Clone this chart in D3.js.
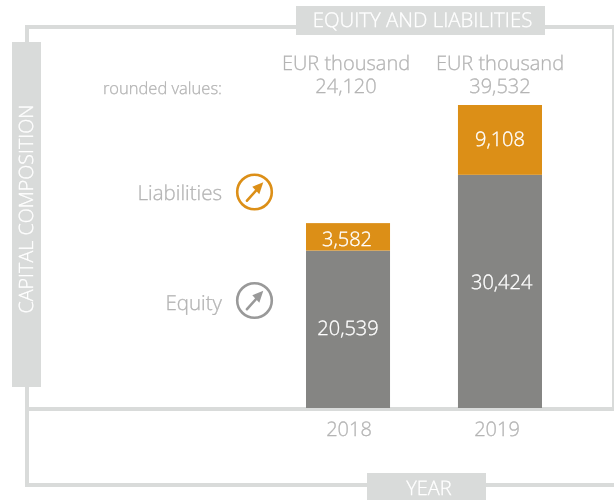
<!DOCTYPE html>
<html lang="en">
<head>
    <meta charset="UTF-8">
    <title>Equity and liabilities</title>
    <script src="https://d3js.org/d3.v7.min.js"></script>
    <style>
        body { margin: 0; background: white; overflow: hidden; }
        svg { display: block; will-change: transform; }
        text { font-family: "Open Sans", sans-serif; font-weight: 300; text-rendering: geometricPrecision; }
    </style>
</head>
<body>
    <svg id="chart" width="614" height="500"></svg>

    <script>
        const years = ["2018", "2019"];
        const equity = [20539, 30424];
        const liabilities = [3582, 9108];
        const totals = [24120, 39532];
        const seriesNames = ["Equity", "Liabilities"];

        const frameColor = "#d9dbda";
        const labelColor = "#b4b4b4";
        const colors = ["#858583", "#dc8f17"];
        const iconColors = ["#999999", "#dc8f17"];

        const svg = d3.select("#chart");
        const fmt = d3.format(",");

        const x = d3.scaleBand().domain(years).range([306, 542]).paddingInner(0.447).paddingOuter(0);
        const y = d3.scaleLinear().domain([0, d3.max(totals)]).range([408, 105]);

        // frame
        const frame = svg.append("g").attr("fill", frameColor);
        frame.append("rect").attr("x", 25).attr("y", 25).attr("width", 589).attr("height", 4);
        frame.append("rect").attr("x", 25).attr("y", 25).attr("width", 4).attr("height", 462);
        frame.append("rect").attr("x", 612).attr("y", 25).attr("width", 2).attr("height", 386);
        frame.append("rect").attr("x", 25).attr("y", 407).attr("width", 589).attr("height", 4);
        frame.append("rect").attr("x", 25).attr("y", 483).attr("width", 589).attr("height", 4);

        // axis title boxes
        frame.append("rect").attr("x", 296).attr("y", 6).attr("width", 249).attr("height", 29);
        frame.append("rect").attr("x", 12).attr("y", 42).attr("width", 29).attr("height", 345);
        frame.append("rect").attr("x", 367).attr("y", 473).attr("width", 119).attr("height", 27);

        svg.append("text").attr("x", 422.5).attr("y", 27).attr("text-anchor", "middle")
            .attr("fill", "white").style("font-size", "20.4px").text("EQUITY AND LIABILITIES");
        svg.append("text").attr("x", 429).attr("y", 495).attr("text-anchor", "middle")
            .attr("fill", "white").style("font-size", "20px").text("YEAR");
        svg.append("text").attr("transform", "translate(33,209) rotate(-90)").attr("text-anchor", "middle")
            .attr("fill", "white").style("font-size", "19.7px").text("CAPITAL COMPOSITION");

        // stacked bars
        const rows = years.map((year, i) => ({ year, equity: equity[i], liabilities: liabilities[i], total: totals[i] }));
        const stack = d3.stack().keys(["equity", "liabilities"])(rows);

        const layers = svg.selectAll("g.layer")
            .data(stack)
            .enter()
            .append("g")
            .attr("class", "layer")
            .attr("fill", (d, i) => colors[i]);

        layers.selectAll("rect")
            .data(d => d)
            .enter()
            .append("rect")
            .attr("x", d => x(d.data.year))
            .attr("width", x.bandwidth())
            .attr("y", d => y(d[1]))
            .attr("height", d => y(d[0]) - y(d[1]));

        // label nudges in px, the original labels are not centred exactly
        const labelNudge = {
            equity: [[0, 5.6], [1.7, -2]],
            liabilities: [[-1, 8.7], [0, 6]]
        };

        layers.each(function(layer) {
            d3.select(this).selectAll("text")
                .data(layer)
                .enter()
                .append("text")
                .attr("x", (d, i) => x(d.data.year) + x.bandwidth() / 2 + labelNudge[layer.key][i][0])
                .attr("y", (d, i) => (y(d[0]) + y(d[1])) / 2 + labelNudge[layer.key][i][1])
                .attr("text-anchor", "middle")
                .attr("fill", "white")
                .style("font-size", "20px")
                .text(d => fmt(d.data[layer.key]));
        });

        // totals over the bars
        const totalNudge = [-2, 0];
        const yearNudge = [1, -3];
        rows.forEach((r, i) => {
            const cx = x(r.year) + x.bandwidth() / 2;
            const head = svg.append("text").attr("text-anchor", "middle")
                .attr("fill", labelColor).style("font-size", "20px");
            head.append("tspan").attr("x", cx + totalNudge[i]).attr("y", 70).text("EUR thousand");
            head.append("tspan").attr("x", cx + totalNudge[i]).attr("y", 93.3).text(fmt(r.total));
            svg.append("text").attr("x", cx + yearNudge[i]).attr("y", 436).attr("text-anchor", "middle")
                .attr("fill", labelColor).style("font-size", "20px").text(r.year);
        });

        svg.append("text").attr("x", 222).attr("y", 94).attr("text-anchor", "end")
            .attr("fill", labelColor).style("font-size", "16.5px").text("rounded values:");

        // series labels with arrow icons
        const iconY = [300.5, 192];
        const labelY = [310, 200];
        seriesNames.forEach((name, i) => {
            svg.append("text").attr("x", 222).attr("y", labelY[i]).attr("text-anchor", "end")
                .attr("fill", labelColor).style("font-size", "20.5px").text(name);
            const icon = svg.append("g").attr("transform", `translate(254.5,${iconY[i]})`);
            icon.append("circle").attr("r", 17.3).attr("fill", "none")
                .attr("stroke", iconColors[i]).attr("stroke-width", 2.6);
            icon.append("path").attr("d", "M-7.5,8.7L3,-3").attr("fill", "none")
                .attr("stroke", iconColors[i]).attr("stroke-width", 2.6).attr("stroke-linecap", "round");
            icon.append("path").attr("d", "M8.8,-9.7L-2.2,-5.3L4.8,2.3Z").attr("fill", iconColors[i]);
        });

        // light weight alone renders thinner than the original, thicken a bit
        svg.selectAll("text")
            .attr("stroke", function() { return d3.select(this).attr("fill"); })
            .attr("stroke-width", 0.3);
    </script>
</body>
</html>
